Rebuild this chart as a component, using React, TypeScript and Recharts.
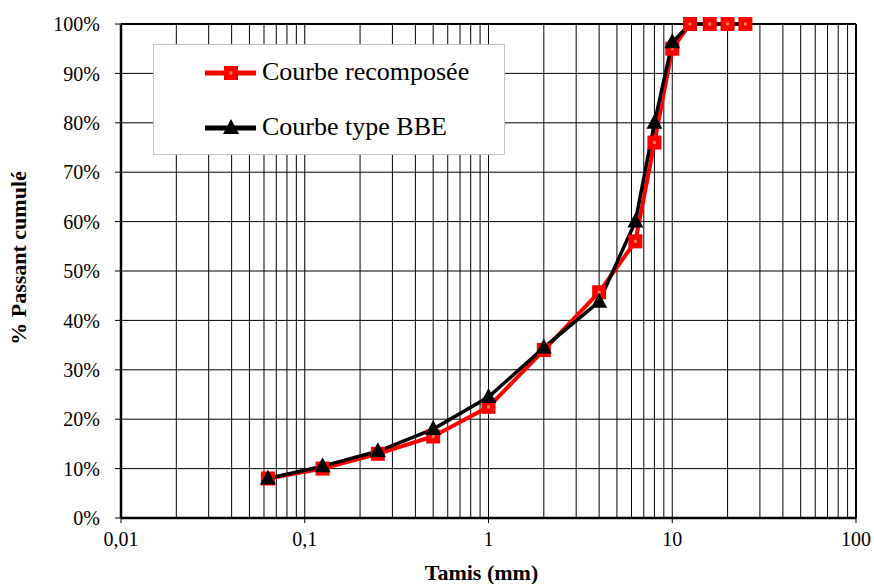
import React from 'react';
import { LineChart, Line, XAxis, YAxis, CartesianGrid, Legend, ReferenceLine, Label } from 'recharts';

const SIEVES = [0.063, 0.125, 0.25, 0.5, 1, 2, 4, 6.3, 8, 10, 12.5, 16, 20, 25];
const RECOMPOSEE = [8, 10, 13, 16.5, 22.5, 34, 45.7, 56, 76, 95, 100, 100, 100, 100];
const TYPE_BBE = [8, 10.5, 13.5, 18, 24.5, 34.5, 43.8, 60, 80, 96.3, 100, 100, 100, 100];

const X_TICKS = [0.01, 0.1, 1, 10, 100];
const Y_TICKS = [0, 10, 20, 30, 40, 50, 60, 70, 80, 90, 100];
const GRID_X = [
  0.02, 0.03, 0.04, 0.05, 0.06, 0.07, 0.08, 0.09, 0.1,
  0.2, 0.3, 0.4, 0.5, 0.6, 0.7, 0.8, 0.9, 1,
  2, 3, 4, 5, 6, 7, 8, 9, 10,
  20, 30, 40, 50, 60, 70, 80, 90,
];

const FONT = "'Liberation Serif', 'Times New Roman', Times, serif";
const RED = '#ff0000';

const redData = SIEVES.map((x, i) => ({ x, v: RECOMPOSEE[i] }));
const blackData = SIEVES.map((x, i) => ({ x, v: TYPE_BBE[i] }));

const Square = (props: any) => {
  const { cx, cy, index } = props;
  if (cx == null || cy == null) return <g key={`sq-${index}`} />;
  return (
    <g key={`sq-${index}`}>
      <rect x={cx - 7} y={cy - 7} width={14} height={14} fill={RED} />
      <rect x={cx - 1.5} y={cy - 1.5} width={3} height={3} fill="#f08040" />
    </g>
  );
};

const Triangle = (props: any) => {
  const { cx, cy, index, payload } = props;
  if (cx == null || cy == null || payload.x > 10) return <g key={`tr-${index}`} />;
  return (
    <polygon
      key={`tr-${index}`}
      points={`${cx},${cy - 9} ${cx - 8},${cy + 6} ${cx + 8},${cy + 6}`}
      fill="#000"
    />
  );
};

const LegendBox = () => (
  <div
    style={{
      position: 'relative',
      width: 352,
      height: 111,
      boxSizing: 'border-box',
      border: '1px solid #c4c4c4',
      background: '#fff',
      fontFamily: FONT,
      fontSize: 26,
      color: '#000',
    }}
  >
    <svg width={60} height={24} style={{ position: 'absolute', left: 48, top: 16 }}>
      <line x1={3} y1={12} x2={54} y2={12} stroke={RED} strokeWidth={5} />
      <rect x={22} y={5} width={14} height={14} fill={RED} />
      <rect x={27.5} y={10.5} width={3} height={3} fill="#f08040" />
    </svg>
    <span style={{ position: 'absolute', left: 108, top: 12, lineHeight: '30px', whiteSpace: 'nowrap' }}>
      Courbe recomposée
    </span>
    <svg width={60} height={24} style={{ position: 'absolute', left: 48, top: 71 }}>
      <line x1={3} y1={12} x2={54} y2={12} stroke="#000" strokeWidth={5} />
      <polygon points="29,3 21,18 37,18" fill="#000" />
    </svg>
    <span style={{ position: 'absolute', left: 108, top: 67, lineHeight: '30px', whiteSpace: 'nowrap' }}>
      Courbe type BBE
    </span>
  </div>
);

const YTitle = (props: any) => {
  const { viewBox } = props;
  const cx = 18;
  const cy = viewBox.y + viewBox.height / 2 - 13;
  return (
    <text
      x={cx}
      y={cy}
      transform={`rotate(-90 ${cx} ${cy})`}
      textAnchor="middle"
      dominantBaseline="central"
      fontFamily={FONT}
      fontWeight="bold"
      fontSize={22}
      fill="#000"
    >
      % Passant cumulé
    </text>
  );
};

const XTitle = (props: any) => {
  const { viewBox } = props;
  const cx = viewBox.x + viewBox.width / 2 - 7;
  return (
    <text x={cx} y={580} textAnchor="middle" fontFamily={FONT} fontWeight="bold" fontSize={22} fill="#000">
      Tamis (mm)
    </text>
  );
};

const verticalGrid = ({ xAxis, offset }: any) =>
  GRID_X.map((v) => {
    if (xAxis && typeof xAxis.scale === 'function') return xAxis.scale(v);
    return offset.left + (offset.width * (Math.log10(v) + 2)) / 4;
  });

export default function App() {
  return (
    <div style={{ position: 'absolute', left: 0, top: 0, width: 874, height: 584, overflow: 'hidden' }}>
      <LineChart width={874} height={584} margin={{ top: 24, right: 18, left: 0, bottom: 0 }}>
        <CartesianGrid stroke="#000" strokeWidth={1} verticalCoordinatesGenerator={verticalGrid} />
        <XAxis
          dataKey="x"
          type="number"
          scale="log"
          domain={[0.01, 100]}
          allowDataOverflow
          ticks={X_TICKS}
          tickFormatter={(v: number) => String(v).replace('.', ',')}
          height={66}
          tickSize={5}
          tickMargin={9}
          tick={{ fill: '#000', fontSize: 20, fontFamily: FONT }}
          axisLine={{ stroke: '#000', strokeWidth: 2.5 }}
          tickLine={{ stroke: '#000' }}
        >
          <Label content={<XTitle />} />
        </XAxis>
        <YAxis
          type="number"
          domain={[0, 100]}
          ticks={Y_TICKS}
          tickFormatter={(v: number) => `${v}%`}
          width={121}
          tickSize={6}
          tickMargin={15}
          tick={{ fill: '#000', fontSize: 20, fontFamily: FONT }}
          axisLine={{ stroke: '#000', strokeWidth: 2.5 }}
          tickLine={{ stroke: '#000' }}
        >
          <Label content={<YTitle />} />
        </YAxis>
        <ReferenceLine y={100} stroke="#000" strokeWidth={2} />
        <ReferenceLine x={100} stroke="#000" strokeWidth={2} />
        <Line
          data={redData}
          dataKey="v"
          name="Courbe recomposée"
          stroke={RED}
          strokeWidth={4}
          dot={Square}
          activeDot={false}
          isAnimationActive={false}
        />
        <Line
          data={blackData}
          dataKey="v"
          name="Courbe type BBE"
          stroke="#000"
          strokeWidth={3.5}
          dot={Triangle}
          activeDot={false}
          isAnimationActive={false}
        />
        <Legend
          layout="horizontal"
          verticalAlign="middle"
          align="center"
          content={<LegendBox />}
          wrapperStyle={{ position: 'absolute', left: 153, top: 44, width: 352, height: 111 }}
        />
      </LineChart>
    </div>
  );
}
